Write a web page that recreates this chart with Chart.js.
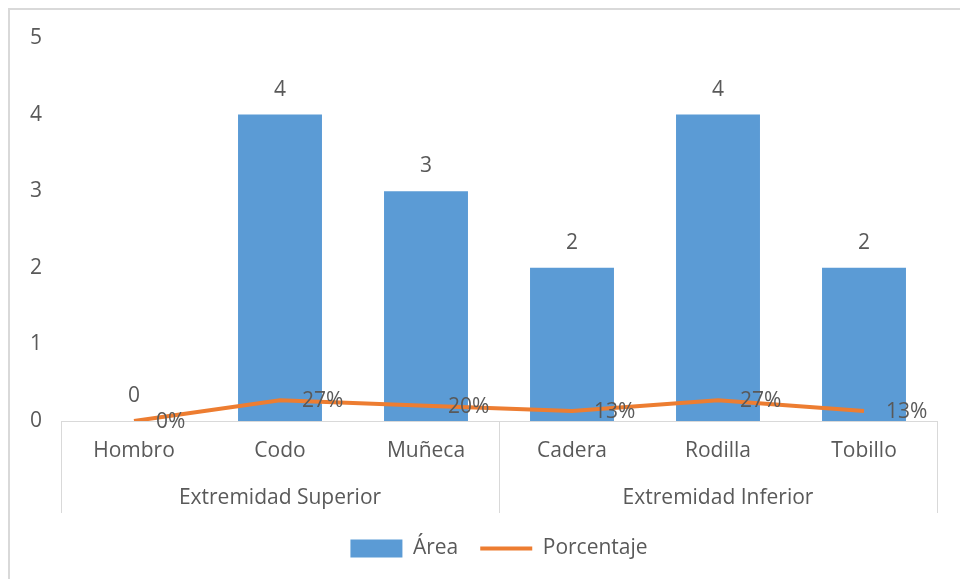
<!DOCTYPE html>
<html>
<head>
<meta charset="utf-8">
<script src="https://cdn.jsdelivr.net/npm/chart.js@4/dist/chart.umd.min.js"></script>
<style>
  html, body { margin: 0; padding: 0; background: #fff; overflow: hidden; }
  #frame { position: absolute; left: 8px; top: 8px; width: 980px; height: 620px; border: 2px solid #d9d9d9; }
  #wrap { position: absolute; left: 0; top: 0; width: 960px; height: 579px; }
</style>
</head>
<body>
<div id="frame"></div>
<div id="wrap"><canvas id="chart"></canvas></div>
<script>
// categories, their group, and the two series
const categories = ['Hombro', 'Codo', 'Muñeca', 'Cadera', 'Rodilla', 'Tobillo'];
const groups = ['Extremidad Superior', 'Extremidad Superior', 'Extremidad Superior',
                'Extremidad Inferior', 'Extremidad Inferior', 'Extremidad Inferior'];
const areaCounts = [0, 4, 3, 2, 4, 2];
const percentages = [0, 27, 20, 13, 27, 13];
const yTicks = [0, 1, 2, 3, 4, 5];

const TEXT = '#595959';
const FONT = 'Open Sans';
const FONT_SIZE = 21;
const BLUE = '#5B9BD5';
const ORANGE = '#ED7D31';

// group label sits under the middle category of each run
const groupRow = categories.map((c, i) => {
    let start = i, end = i;
    while (start > 0 && groups[start - 1] === groups[i]) start--;
    while (end < groups.length - 1 && groups[end + 1] === groups[i]) end++;
    return i === Math.floor((start + end) / 2) ? groups[i] : '';
});

// value labels: counts above bars, percentages to the right of the line points
const valueLabels = {
    id: 'valueLabels',
    afterDatasetsDraw(chart) {
        const ctx = chart.ctx;
        ctx.save();
        ctx.fillStyle = TEXT;
        ctx.font = FONT_SIZE + 'px "' + FONT + '"';
        ctx.textBaseline = 'middle';
        chart.getDatasetMeta(0).data.forEach((el, i) => {
            ctx.textAlign = 'center';
            ctx.fillText(String(areaCounts[i]), el.x, el.y - 25);
        });
        chart.getDatasetMeta(1).data.forEach((el, i) => {
            ctx.textAlign = 'left';
            ctx.fillText(percentages[i] + '%', el.x + 22, el.y + 1);
        });
        ctx.restore();
    }
};

// vertical separators between the category groups
const groupDividers = {
    id: 'groupDividers',
    afterDraw(chart) {
        const x = chart.scales.x;
        const x2 = chart.scales.x2;
        const step = (x.right - x.left) / categories.length;
        const ctx = chart.ctx;
        ctx.save();
        ctx.strokeStyle = '#d9d9d9';
        ctx.lineWidth = 1;
        for (let i = 0; i <= categories.length; i++) {
            if (i === 0 || i === categories.length || groups[i] !== groups[i - 1]) {
                const px = Math.round(x.getPixelForValue(i) - step / 2) + 0.5;
                ctx.beginPath();
                ctx.moveTo(px, x.top);
                ctx.lineTo(px, x2.bottom - 3);
                ctx.stroke();
            }
        }
        ctx.restore();
    }
};

new Chart(document.getElementById('chart'), {
    data: {
        labels: categories,
        datasets: [{
            type: 'bar',
            label: 'Área',
            data: areaCounts,
            backgroundColor: BLUE,
            categoryPercentage: 1,
            barPercentage: 0.575,
            pointStyle: 'rect',
            order: 1
        }, {
            type: 'line',
            label: 'Porcentaje',
            data: percentages.map(p => p / 100),
            borderColor: ORANGE,
            backgroundColor: ORANGE,
            borderWidth: 4,
            pointRadius: 0,
            tension: 0,
            pointStyle: 'line',
            order: 0
        }]
    },
    options: {
        responsive: true,
        maintainAspectRatio: false,
        animation: false,
        layout: { padding: { top: 38, right: 23, left: 0, bottom: 10 } },
        scales: {
            y: {
                min: 0,
                max: 5,
                afterBuildTicks: s => { s.ticks = yTicks.map(v => ({ value: v })); },
                afterFit: s => { s.width = 61; },
                grid: { display: false, drawTicks: false },
                border: { display: false },
                ticks: { color: TEXT, font: { family: FONT, size: FONT_SIZE }, padding: 19 }
            },
            x: {
                offset: true,
                grid: { display: false, drawTicks: false },
                border: { color: '#d9d9d9', width: 1 },
                afterFit: s => { s.height = 47; },
                ticks: {
                    color: TEXT, font: { family: FONT, size: FONT_SIZE },
                    padding: 17, autoSkip: false, maxRotation: 0
                }
            },
            x2: {
                type: 'category',
                position: 'bottom',
                labels: groupRow,
                offset: true,
                grid: { display: false, drawTicks: false },
                border: { display: false },
                afterFit: s => { s.height = 48; },
                ticks: {
                    color: TEXT, font: { family: FONT, size: FONT_SIZE },
                    padding: 17, autoSkip: false, maxRotation: 0
                }
            }
        },
        plugins: {
            tooltip: { enabled: false },
            legend: {
                position: 'bottom',
                fullSize: false,
                labels: {
                    color: TEXT,
                    font: { family: FONT, size: FONT_SIZE },
                    usePointStyle: true,
                    pointStyleWidth: 52,
                    boxHeight: 18,
                    padding: 22,
                    sort: (a, b) => a.datasetIndex - b.datasetIndex
                }
            }
        }
    },
    plugins: [valueLabels, groupDividers]
});
</script>
</body>
</html>
